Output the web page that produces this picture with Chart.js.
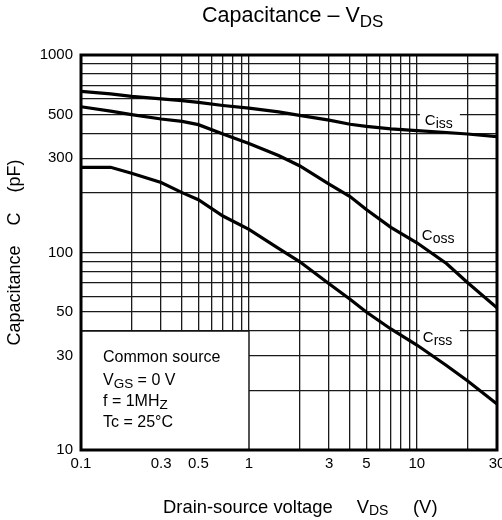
<!DOCTYPE html>
<html>
<head>
<meta charset="utf-8">
<script src="https://cdn.jsdelivr.net/npm/chart.js@4/dist/chart.umd.min.js"></script>
<style>
  body { margin: 0; background: #fff; }
  #wrap { width: 502px; height: 520px; position: relative; }
</style>
</head>
<body>
<div id="wrap"><canvas id="myChart"></canvas></div>
<script>
// drain-source voltage (V) and capacitances (pF)
const vds  = [0.1, 0.15, 0.2, 0.3, 0.4, 0.5, 0.7, 1, 1.5, 2, 3, 4, 5, 7, 10, 15, 20, 30];
const ciss = [655, 635, 617, 600, 587, 575, 555, 538, 515, 495, 468, 446, 435, 423, 414, 405, 398, 386];
const coss = [547, 520, 499, 474, 461, 444, 398, 356, 310, 275, 222, 192, 165, 134, 112, 88, 70.5, 52.5];
const crss = [270, 270, 252, 226, 201, 185, 153, 131, 105, 90, 69.5, 58, 50, 41, 34, 26.8, 22.4, 17.1];

const xTickLabels = [0.1, 0.3, 0.5, 1, 3, 5, 10, 30];
const yTickLabels = [10, 30, 50, 100, 300, 500, 1000];

const FONT = '"Liberation Sans", Arial, sans-serif';
Chart.defaults.font.family = FONT;
Chart.defaults.color = '#000';

// 1..9 x 10^n grid between min and max
function logGrid(min, max) {
  const out = [];
  for (let e = Math.floor(Math.log10(min)); e <= Math.ceil(Math.log10(max)); e++) {
    for (let k = 1; k < 10; k++) {
      const v = Number((k * Math.pow(10, e)).toPrecision(6));
      if (v >= min && v <= max) out.push(v);
    }
  }
  return out;
}

function pts(ys) {
  return vds.map((v, i) => ({x: v, y: ys[i]}));
}

// text with subscripts: parts = [text, size, dy]
function drawParts(ctx, parts, x, y) {
  parts.forEach(([t, size, dy]) => {
    ctx.font = size + 'px ' + FONT;
    ctx.fillText(t, x, y + dy);
    x += ctx.measureText(t).width;
  });
  return x;
}

const decor = {
  id: 'decor',
  beforeDatasetsDraw(chart) {
    const ctx = chart.ctx, a = chart.chartArea;
    const xs = chart.scales.x, ys = chart.scales.y;
    ctx.save();
    // condition box
    const bx = xs.getPixelForValue(1), by = ys.getPixelForValue(40);
    ctx.fillStyle = '#fff';
    ctx.fillRect(a.left, by, bx - a.left, a.bottom - by);
    ctx.strokeStyle = '#111';
    ctx.lineWidth = 1.3;
    ctx.strokeRect(a.left, by, bx - a.left, a.bottom - by);
    // white patches behind the curve labels
    const lx = xs.getPixelForValue(10) + 3;
    ctx.fillRect(lx, ys.getPixelForValue(500) - 7, 40, 14);
    ctx.fillRect(lx, ys.getPixelForValue(40) - 7, 40, 14);
    ctx.restore();
  },
  afterDatasetsDraw(chart) {
    const ctx = chart.ctx, a = chart.chartArea;
    ctx.save();
    ctx.strokeStyle = '#000';
    ctx.lineWidth = 3;
    ctx.strokeRect(a.left, a.top, a.right - a.left, a.bottom - a.top);
    ctx.restore();
  },
  afterDraw(chart) {
    const ctx = chart.ctx, a = chart.chartArea;
    const xs = chart.scales.x, ys = chart.scales.y;
    ctx.save();
    ctx.fillStyle = '#000';
    ctx.textBaseline = 'alphabetic';
    ctx.textAlign = 'left';

    drawParts(ctx, [['Capacitance – V', 21.5, 0], ['DS', 17, 5]], 202, 22);

    drawParts(ctx, [['Drain-source voltage', 18.4, 0]], 163, 512.7);
    drawParts(ctx, [['V', 18.4, 0], ['DS', 14, 2.5]], 356.7, 512.7);
    drawParts(ctx, [['(V)', 18.4, 0]], 413, 512.7);

    // curve labels
    const lx = xs.getPixelForValue(10) + 5;
    drawParts(ctx, [['C', 15, 0], ['iss', 14, 3]], lx + 3, ys.getPixelForValue(500) + 10.5);
    drawParts(ctx, [['C', 15, 0], ['oss', 14, 3]], lx, ys.getPixelForValue(100) - 13);
    drawParts(ctx, [['C', 15, 0], ['rss', 14, 3]], lx + 1, ys.getPixelForValue(40) + 10.5);

    // measurement conditions
    const tx = a.left + 22;
    drawParts(ctx, [['Common source', 16, 0]], tx, 362.3);
    drawParts(ctx, [['V', 16, 0], ['GS', 13.5, 3], [' = 0 V', 16, 0]], tx, 385);
    drawParts(ctx, [['f = 1MH', 16, 0], ['Z', 13.5, 2.5]], tx, 406);
    drawParts(ctx, [['Tc = 25°C', 16, 0]], tx, 427);
    ctx.restore();
  }
};

const line = (data) => ({
  data: data,
  borderColor: '#000',
  borderWidth: 3.2,
  pointRadius: 0,
  tension: 0,
  fill: false
});

new Chart('myChart', {
  type: 'line',
  data: {
    datasets: [line(pts(ciss)), line(pts(coss)), line(pts(crss))]
  },
  options: {
    responsive: true,
    maintainAspectRatio: false,
    animation: false,
    layout: {padding: {top: 55, right: 5, left: 0, bottom: 0}},
    plugins: {legend: {display: false}, tooltip: {enabled: false}},
    scales: {
      x: {
        type: 'logarithmic',
        min: 0.1,
        max: 30,
        afterBuildTicks: s => { s.ticks = logGrid(0.1, 30).map(v => ({value: v})); },
        afterFit: s => { s.height = 70; s.paddingLeft = 0; s.paddingRight = 0; },
        ticks: {
          autoSkip: false,
          maxRotation: 0,
          padding: 5,
          font: {size: 15},
          callback: v => xTickLabels.includes(v) ? String(v) : ''
        },
        grid: {color: '#1a1a1a', lineWidth: 1.3, drawTicks: false},
        border: {display: false}
      },
      y: {
        type: 'logarithmic',
        min: 10,
        max: 1000,
        afterBuildTicks: s => { s.ticks = logGrid(10, 1000).map(v => ({value: v})); },
        afterFit: s => { s.width = 81; s.paddingTop = 0; s.paddingBottom = 0; },
        ticks: {
          autoSkip: false,
          padding: 8,
          font: {size: 15},
          callback: v => yTickLabels.includes(v) ? String(v) : ''
        },
        title: {
          display: true,
          text: 'Capacitance    C    (pF)',
          font: {size: 18}
        },
        grid: {color: '#1a1a1a', lineWidth: 1.3, drawTicks: false},
        border: {display: false}
      }
    }
  },
  plugins: [decor]
});
</script>
</body>
</html>
